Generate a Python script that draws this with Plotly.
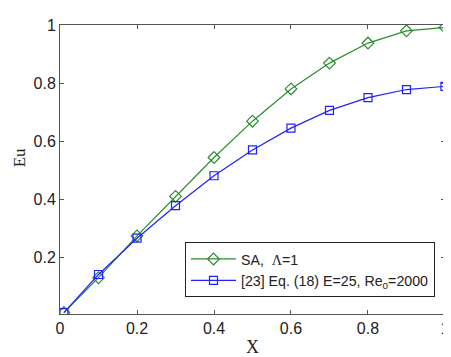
import plotly.graph_objects as go

x_vals = [0.01, 0.1, 0.2, 0.3, 0.4, 0.5, 0.6, 0.7, 0.8, 0.9, 1.0]
sa_vals = [0.01, 0.13, 0.274, 0.41, 0.544, 0.669, 0.78, 0.869, 0.938, 0.98, 0.992]
ref_vals = [0.01, 0.141, 0.266, 0.378, 0.481, 0.570, 0.645, 0.706, 0.750, 0.778, 0.789]
x_ticks = [0, 0.2, 0.4, 0.6, 0.8, 1]
x_tick_labels = ["0", "0.2", "0.4", "0.6", "0.8", "1"]
y_ticks = [0.2, 0.4, 0.6, 0.8, 1]
y_tick_labels = ["0.2", "0.4", "0.6", "0.8", "1"]

green = "#2b8c2b"
blue = "#2020ff"

fig = go.Figure()
fig.add_trace(go.Scatter(
    x=x_vals, y=sa_vals, mode="lines+markers",
    name="SA,  <span style='font-family:Times New Roman, Liberation Serif, serif'>Λ</span>=1",
    line=dict(color=green, width=1.2),
    marker=dict(symbol="diamond-open", size=9, color=green, line=dict(width=1.2)),
))
fig.add_trace(go.Scatter(
    x=x_vals, y=ref_vals, mode="lines+markers",
    name="[23] Eq. (18) E=25, Re<sub>0</sub>=2000",
    line=dict(color=blue, width=1.2),
    marker=dict(symbol="square-open", size=8, color=blue, line=dict(width=1.2)),
))

axis_common = dict(
    showgrid=False, zeroline=False, showline=True, linecolor="#555", linewidth=1,
    mirror="ticks", ticks="inside", ticklen=4, tickcolor="#555",
    tickfont=dict(family="Arial, Liberation Sans, sans-serif", size=16, color="#222"),
)

fig.update_layout(
    width=451, height=357,
    margin=dict(l=52, r=9, t=10, b=51),
    plot_bgcolor="white", paper_bgcolor="white",
    xaxis=dict(range=[-0.0001, 1.0001], tickvals=x_ticks, ticktext=x_tick_labels,
               title=dict(text="X", font=dict(family="Times New Roman, Liberation Serif, serif", size=18, color="#222"), standoff=4),
               **axis_common),
    yaxis=dict(range=[0.005, 1.0002], tickvals=y_ticks, ticktext=y_tick_labels,
               **axis_common),
    annotations=[dict(
        text="Eu", xref="paper", yref="paper", x=-0.103, y=0.54,
        xanchor="center", yanchor="middle", textangle=-90, showarrow=False,
        font=dict(family="Times New Roman, Liberation Serif, serif", size=17, color="#222"),
    )],
    legend=dict(
        x=0.974, y=0.058, xanchor="right", yanchor="bottom",
        bgcolor="white", bordercolor="#222", borderwidth=1,
        font=dict(family="Arial, Liberation Sans, sans-serif", size=14.2, color="#222"),
        tracegroupgap=0, itemwidth=45,
    ),
    showlegend=True,
)

fig.write_html("out.html")
